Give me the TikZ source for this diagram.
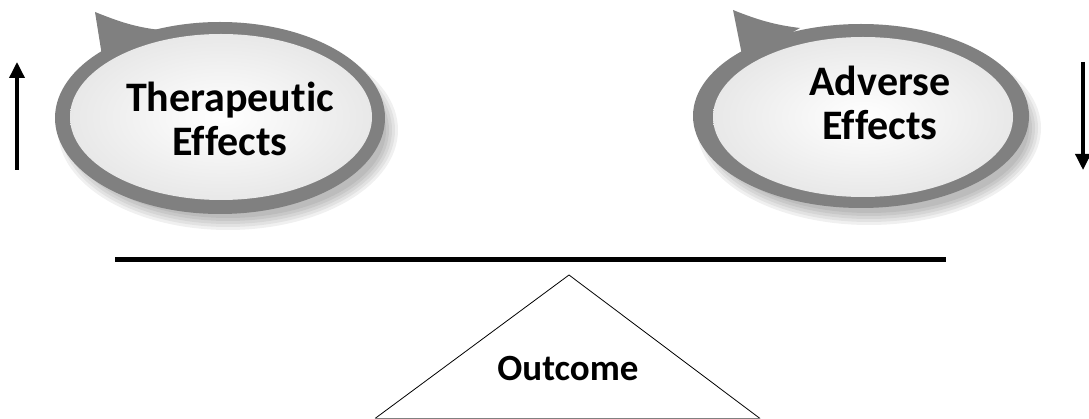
\documentclass[tikz,border=0pt]{standalone}
\usepackage{fontspec}
\setmainfont{Carlito}[Ligatures=NoCommon]
\usetikzlibrary{arrows.meta}
\tikzset{
  ringc/.style={fill=black!50},
  shad/.style={fill=black, opacity=0.06},
  lbl/.style={font=\bfseries\fontsize{42}{44}\selectfont, align=center, inner sep=0pt},
  updown/.style={line width=3.5pt, -{Triangle[width=15pt,length=16pt]}},
}
\begin{document}
\begin{tikzpicture}[x=1pt,y=-1pt]
\useasboundingbox (0,0) rectangle (1089,419);
% left bubble
\foreach \r in {0,3,6,9,12}{
  \fill[shad] (228,130) ellipse ({170-\r} and {100-\r});
}
\fill[ringc] (103,62) -- (95,12) .. controls (120,22) and (135,27) .. (160,30) -- cycle;
\fill[ringc] (220,118) ellipse (165 and 96);
\shade[inner color=white, outer color=black!9] (221,117) ellipse (151 and 83);
\node[lbl] (ther) at (230,119) {Therapeutic\\Effects};
% right bubble
\foreach \r in {0,3,6,9,12}{
  \fill[shad] (869,128) ellipse ({172-\r} and {97-\r});
}
\fill[ringc] (743,60) -- (733,10) .. controls (758,20) and (775,25) .. (800,28) -- cycle;
\fill[ringc] (861,116) ellipse (168 and 92);
\shade[inner color=white, outer color=black!9] (863,117) ellipse (150 and 80);
\node[lbl] (adv) at (880,103) {Adverse\\Effects};
% arrows
\coordinate (ua) at (17,170);
\coordinate (ub) at (17,62);
\draw[updown] (ua) -- (ub);
\coordinate (da) at (1083,62);
\coordinate (db) at (1083,170);
\draw[updown] (da) -- (db);
% beam
\coordinate (bl) at (115,260);
\coordinate (br) at (946,260);
\draw[line width=5pt] (bl) -- (br);
% fulcrum
\coordinate (apex) at (569,275);
\coordinate (tl) at (375,418.5);
\coordinate (tr) at (760,418.5);
\draw[line width=0.8pt] (tl) -- (apex) -- (tr);
\draw[line width=1pt, black!50] (tl) -- (tr);
\node[font=\bfseries\fontsize{37}{40}\selectfont, inner sep=0pt] (out) at (568,369) {Outcome};
\end{tikzpicture}
\end{document}
